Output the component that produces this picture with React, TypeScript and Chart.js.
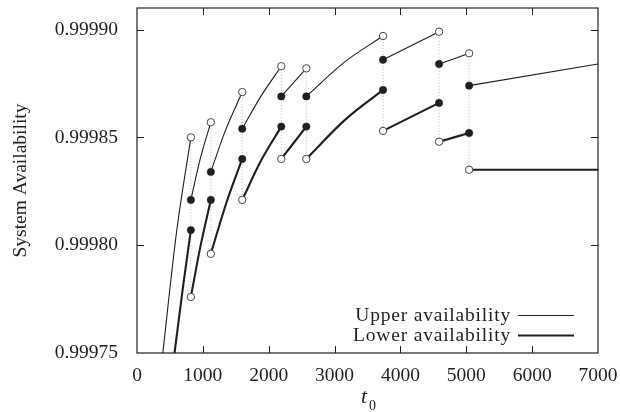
import React, { useEffect, useRef } from "react";
import { Chart, registerables } from "chart.js";

Chart.register(...registerables);

// ---- Data ----
const X_TICKS = [0, 1000, 2000, 3000, 4000, 5000, 6000, 7000];
const Y_TICKS = [0.99975, 0.9998, 0.99985, 0.9999];
const X_RANGE = [0, 7000];
const Y_RANGE = [0.99975, 0.99991];

// Upper availability: piecewise curves [t0, availability]
const UPPER_SEGMENTS: number[][][] = [
  [[392, 0.99975], [600, 0.999806], [818, 0.99985]],
  [[818, 0.999821], [960, 0.99984], [1121, 0.999857]],
  [[1121, 0.999834], [1340, 0.999853], [1598, 0.999871]],
  [[1598, 0.999854], [1880, 0.999869], [2191, 0.999883]],
  [[2191, 0.999869], [2571, 0.999882]],
  [[2571, 0.999869], [3154, 0.999885], [3736, 0.999897]],
  [[3736, 0.999886], [4587, 0.999899]],
  [[4587, 0.999884], [5043, 0.999889]],
  [[5043, 0.999874], [7000, 0.999884]],
];

// Lower availability: piecewise curves [t0, availability]
const LOWER_SEGMENTS: number[][][] = [
  [[570, 0.99975], [700, 0.999781], [818, 0.999807]],
  [[818, 0.999776], [960, 0.999799], [1121, 0.999821]],
  [[1121, 0.999796], [1350, 0.999819], [1598, 0.99984]],
  [[1598, 0.999821], [1880, 0.999839], [2191, 0.999855]],
  [[2191, 0.99984], [2571, 0.999855]],
  [[2571, 0.99984], [3154, 0.999858], [3736, 0.999872]],
  [[3736, 0.999853], [4587, 0.999866]],
  [[4587, 0.999848], [5043, 0.999852]],
  [[5043, 0.999835], [7000, 0.999835]],
];

const LEGEND_LABELS = ["Upper availability", "Lower availability"];
const Y_TITLE = "System Availability";

const FONT = "'Liberation Serif', 'DejaVu Serif', serif";
const INK = "#1f1f1f";

const toPts = (seg: number[][]) => seg.map(([x, y]) => ({ x, y }));

const zeroPad = (s: any) => {
  s.paddingTop = 0;
  s.paddingBottom = 0;
  s.paddingLeft = 0;
  s.paddingRight = 0;
};

export default function App() {
  const ref = useRef<HTMLCanvasElement | null>(null);

  useEffect(() => {
    if (!ref.current) return;

    const datasets: any[] = [];

    // Derived markers
    const filled: { x: number; y: number }[] = [];
    const open: { x: number; y: number }[] = [];
    UPPER_SEGMENTS.forEach((seg, i) => {
      if (i > 0) filled.push({ x: seg[0][0], y: seg[0][1] });
      if (i < UPPER_SEGMENTS.length - 1) open.push({ x: seg[seg.length - 1][0], y: seg[seg.length - 1][1] });
    });
    LOWER_SEGMENTS.forEach((seg, i) => {
      if (i > 0) open.push({ x: seg[0][0], y: seg[0][1] });
      if (i < LOWER_SEGMENTS.length - 1) filled.push({ x: seg[seg.length - 1][0], y: seg[seg.length - 1][1] });
    });

    datasets.push({
      label: "filled",
      data: filled,
      showLine: false,
      pointRadius: 3.7,
      pointBackgroundColor: INK,
      pointBorderColor: INK,
      pointBorderWidth: 0.5,
      order: 0,
    });
    datasets.push({
      label: "open",
      data: open,
      showLine: false,
      pointRadius: 3.7,
      pointBackgroundColor: "#ffffff",
      pointBorderColor: "#333",
      pointBorderWidth: 0.9,
      order: 0,
    });

    // dotted jump lines at each breakpoint
    for (let i = 0; i < UPPER_SEGMENTS.length - 1; i++) {
      const u = UPPER_SEGMENTS[i];
      const l = LOWER_SEGMENTS[i + 1];
      const xv = u[u.length - 1][0];
      datasets.push({
        label: "jump",
        data: [
          { x: xv, y: u[u.length - 1][1] },
          { x: xv, y: l[0][1] },
        ],
        showLine: true,
        borderColor: "#b8b8b8",
        borderWidth: 1,
        borderDash: [1, 2],
        pointRadius: 0,
        order: 3,
      });
    }

    UPPER_SEGMENTS.forEach((seg) => {
      datasets.push({
        label: LEGEND_LABELS[0],
        data: toPts(seg),
        showLine: true,
        borderColor: INK,
        borderWidth: 1.1,
        pointRadius: 0,
        cubicInterpolationMode: "monotone",
        order: 2,
      });
    });
    LOWER_SEGMENTS.forEach((seg) => {
      datasets.push({
        label: LEGEND_LABELS[1],
        data: toPts(seg),
        showLine: true,
        borderColor: INK,
        borderWidth: 2.1,
        pointRadius: 0,
        cubicInterpolationMode: "monotone",
        order: 1,
      });
    });

    const decor = {
      id: "decor",
      afterDraw(chart: any) {
        const { ctx, chartArea } = chart;
        const { left, right, top, bottom } = chartArea;
        const xs = chart.scales.x;
        const ys = chart.scales.y;
        ctx.save();
        ctx.strokeStyle = "#222";
        ctx.lineWidth = 1.2;
        ctx.strokeRect(left, top, right - left, bottom - top);
        const TL = 7;
        ctx.lineWidth = 1;
        ctx.beginPath();
        X_TICKS.forEach((v) => {
          if (v === X_RANGE[0] || v === X_RANGE[1]) return;
          const px = Math.round(xs.getPixelForValue(v)) + 0.5;
          ctx.moveTo(px, bottom);
          ctx.lineTo(px, bottom - TL);
          ctx.moveTo(px, top);
          ctx.lineTo(px, top + TL);
        });
        Y_TICKS.forEach((v) => {
          if (v === Y_RANGE[0] || v === Y_RANGE[1]) return;
          const py = Math.round(ys.getPixelForValue(v)) + 0.5;
          ctx.moveTo(left, py);
          ctx.lineTo(left + TL, py);
          ctx.moveTo(right, py);
          ctx.lineTo(right - TL, py);
        });
        ctx.stroke();

        // legend
        ctx.fillStyle = INK;
        ctx.font = `19.5px ${FONT}`;
        (ctx as any).letterSpacing = "0.8px";
        ctx.textAlign = "right";
        ctx.textBaseline = "middle";
        const lx = 511;
        const ly = [316, 336];
        LEGEND_LABELS.forEach((t, i) => {
          ctx.fillText(t, lx, ly[i]);
          ctx.beginPath();
          ctx.lineWidth = i === 0 ? 1.1 : 2.1;
          ctx.moveTo(518, ly[i] - 0.5);
          ctx.lineTo(574, ly[i] - 0.5);
          ctx.stroke();
        });
        (ctx as any).letterSpacing = "0px";

        // x title: t_0
        ctx.textAlign = "left";
        ctx.textBaseline = "alphabetic";
        ctx.font = `italic 22px ${FONT}`;
        ctx.fillText("t", 361, 403);
        ctx.font = `14px ${FONT}`;
        ctx.fillText("0", 369, 410);
        ctx.restore();
      },
    };

    const chart = new Chart(ref.current, {
      type: "scatter",
      data: { datasets },
      options: {
        animation: false,
        responsive: false,
        layout: { padding: { left: 0, right: 22, top: 8, bottom: 0 } },
        plugins: { legend: { display: false }, tooltip: { enabled: false } },
        scales: {
          x: {
            type: "linear",
            min: X_RANGE[0],
            max: X_RANGE[1],
            grid: { display: false, drawTicks: false },
            border: { display: false },
            afterBuildTicks: (s: any) => {
              s.ticks = X_TICKS.map((v) => ({ value: v }));
            },
            afterFit: (s: any) => {
              s.height = 59;
              zeroPad(s);
            },
            ticks: {
              padding: 11,
              maxRotation: 0,
              autoSkip: false,
              color: INK,
              font: { family: FONT, size: 19.5 },
              callback: (v: any) => String(v),
            },
          },
          y: {
            type: "linear",
            min: Y_RANGE[0],
            max: Y_RANGE[1],
            grid: { display: false, drawTicks: false },
            border: { display: false },
            afterBuildTicks: (s: any) => {
              s.ticks = Y_TICKS.map((v) => ({ value: v }));
            },
            afterFit: (s: any) => {
              s.width = 137;
              zeroPad(s);
            },
            title: {
              display: true,
              text: Y_TITLE,
              color: INK,
              font: { family: FONT, size: 19.5 },
              padding: { top: 9, bottom: 0 },
            },
            ticks: {
              padding: 19,
              autoSkip: false,
              color: INK,
              font: { family: FONT, size: 19.5 },
              callback: (v: any) => Number(v).toFixed(5),
            },
          },
        },
      },
      plugins: [decor],
    });

    return () => chart.destroy();
  }, []);

  return (
    <div style={{ position: "fixed", left: 0, top: 0, width: 620, height: 412, background: "#fff" }}>
      <canvas ref={ref} width={620} height={412} style={{ display: "block" }} />
    </div>
  );
}
